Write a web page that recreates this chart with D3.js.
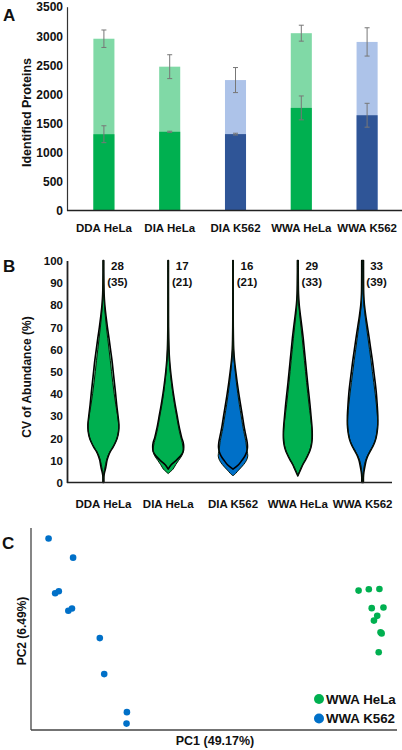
<!DOCTYPE html>
<html><head><meta charset="utf-8">
<script src="https://cdn.jsdelivr.net/npm/d3@7"></script>
<style>
body{margin:0;background:#fff;}
svg{display:block;font-family:"Liberation Sans",Arial,sans-serif;font-weight:bold;}
</style></head><body>
<svg id="c" width="402" height="750"></svg>
<script>
// ---------- DATA ----------
const categories = ["DDA HeLa", "DIA HeLa", "DIA K562", "WWA HeLa", "WWA K562"];
const cellLine = ["HeLa", "HeLa", "K562", "HeLa", "K562"];

// Panel A: identified proteins
const totalProteins = [2950, 2470, 2240, 3045, 2895];
const totalErr = [150, 205, 215, 137, 243];
const commonProteins = [1310, 1352, 1312, 1762, 1636];
const commonErr = [145, 10, 15, 205, 205];
const proteinTicks = [0, 500, 1000, 1500, 2000, 2500, 3000, 3500];

// Panel B: CV violins (half-width density, a.u.) on a shared CV grid
const cvGrid = [0, 2, 3, 4, 5, 6, 8, 10, 12, 14, 16, 18, 20, 23, 26, 30, 35, 40, 45, 50, 55, 60, 65, 70, 75, 80, 85, 90, 95, 100];
const cvTicks = [0, 10, 20, 30, 40, 50, 60, 70, 80, 90, 100];
const medianProtein = [28, 17, 16, 29, 33];
const medianPeptide = [35, 21, 21, 33, 39];
const outerDDAHeLa = [0.45, 0.45, 0.55, 0.9, 1.4, 2.0, 2.8, 3.6, 5.0, 7.0, 9.8, 12.0, 13.8, 15.2, 15.5, 14.6, 13.3, 12.2, 11.0, 9.8, 8.6, 7.1, 5.6, 4.0, 2.6, 1.4, 0.7, 0.45, 0.35, 0.35];
const innerDDAHeLa = [0.3, 0.3, 0.35, 0.45, 0.7, 1.2, 2.1, 3.1, 4.6, 6.7, 9.6, 11.9, 13.7, 15.1, 15.3, 14.2, 12.4, 10.8, 9.4, 8.1, 6.9, 5.6, 4.3, 3.0, 1.9, 1.0, 0.5, 0.3, 0.25, 0.25];
const outerDIAHeLa = [null, null, null, null, null, 0, 3.0, 8.0, 12.5, 15.0, 15.5, 15.0, 13.6, 12.0, 10.6, 9.0, 7.0, 5.2, 3.7, 2.4, 1.4, 0.8, 0.5, 0.35, 0.3, 0.28, 0.26, 0.25, 0.25, 0.25];
const innerDIAHeLa = [null, null, null, 0, 2.5, 4.8, 7.5, 10.5, 13.5, 15.0, 14.8, 14.0, 12.8, 11.2, 9.9, 8.3, 6.3, 4.6, 3.2, 2.0, 1.2, 0.7, 0.4, 0.3, 0.25, 0.22, 0.2, 0.2, 0.2, 0.2];
const outerDIAK562 = [null, null, null, null, null, 0, 5.5, 9.0, 12.0, 13.8, 14.5, 14.2, 13.4, 12.0, 10.8, 9.4, 7.6, 5.8, 4.2, 2.8, 1.5, 0.7, 0.4, 0.25, 0.2, 0.18, 0.16, 0.15, 0.15, 0.15];
const innerDIAK562 = [null, null, 0, 2.5, 4.5, 6.5, 10.5, 13.5, 14.8, 14.2, 13.5, 13.0, 12.2, 10.8, 9.6, 8.2, 6.4, 4.8, 3.4, 2.2, 1.1, 0.5, 0.25, 0.15, 0.12, 0.1, 0.1, 0.1, 0.1, 0.1];
const outerWWAHeLa = [null, null, 0, 1.0, 2.0, 3.0, 5.0, 7.5, 9.8, 11.8, 13.2, 14.0, 14.4, 14.4, 14.0, 13.2, 12.2, 11.0, 9.8, 8.7, 7.6, 6.5, 5.4, 4.1, 2.7, 1.4, 0.7, 0.5, 0.4, 0.4];
const innerWWAHeLa = [null, null, 0, 0.8, 1.8, 2.8, 4.8, 7.3, 9.6, 11.6, 13.0, 13.8, 14.2, 14.2, 13.6, 12.6, 11.2, 10.0, 8.8, 7.7, 6.6, 5.5, 4.4, 3.2, 2.0, 1.0, 0.5, 0.35, 0.3, 0.3];
const outerWWAK562 = [0.8, 0.8, 0.9, 1.1, 1.4, 1.8, 2.6, 3.6, 5.2, 7.5, 10.0, 12.0, 13.4, 14.6, 15.2, 15.2, 14.6, 13.8, 12.6, 11.2, 9.8, 8.2, 6.6, 4.9, 3.2, 1.8, 1.1, 0.95, 0.9, 0.9];
const innerWWAK562 = [0.45, 0.45, 0.5, 0.6, 0.8, 1.1, 1.8, 3.0, 4.8, 7.2, 9.8, 11.8, 13.2, 14.4, 15.0, 14.8, 13.8, 12.6, 11.2, 9.8, 8.4, 6.9, 5.4, 3.9, 2.5, 1.3, 0.75, 0.6, 0.55, 0.55];

// Panel C: PCA scores
const pcaGroups = ["WWA HeLa", "WWA K562"];
const pc1HeLa = [49.5, 52.3, 55.2, 53.1, 56.3, 54.6, 53.7, 55.5, 55.8, 55.0];
const pc2HeLa = [11.4, 11.8, 11.9, 6.2, 6.4, 3.9, 2.5, -1.0, -1.3, -6.9];
const pc1K562 = [-35.2, -28.5, -33.4, -32.4, -29.8, -28.8, -21.2, -20.0, -13.8, -13.9];
const pc2K562 = [26.9, 21.2, 10.6, 11.2, 5.4, 6.1, -2.7, -13.4, -24.7, -28.1];

// ---------- STYLE ----------
const darkCol = {HeLa: "#00b050", K562: "#2f5597"};
const lightCol = {HeLa: "#80d9a6", K562: "#adc3e9"};
const vDark = {HeLa: "#00b050", K562: "#0070c8"};
const vLight = {HeLa: "#86e3ad", K562: "#9cc4ee"};
const txt = "#111";

const svg = d3.select("#c");

// ---------- PANEL A ----------
const xA = d3.scaleBand().domain(categories).range([71, 400]).paddingInner(0.68).paddingOuter(0.34);
const yA = d3.scaleLinear().domain([0, 3500]).range([210.5, 6.7]);
const gA = svg.append("g");

categories.forEach((c, i) => {
  const x = xA(c), w = xA.bandwidth(), cl = cellLine[i];
  gA.append("rect").attr("x", x).attr("width", w)
    .attr("y", yA(totalProteins[i])).attr("height", yA(0) - yA(totalProteins[i]))
    .attr("fill", lightCol[cl]);
  gA.append("rect").attr("x", x).attr("width", w)
    .attr("y", yA(commonProteins[i])).attr("height", yA(0) - yA(commonProteins[i]))
    .attr("fill", darkCol[cl]);
  const cx = x + w / 2;
  [[totalProteins[i], totalErr[i]], [commonProteins[i], commonErr[i]]].forEach(([v, e]) => {
    const g = gA.append("g").attr("stroke", "#777").attr("stroke-width", 1);
    g.append("line").attr("x1", cx).attr("x2", cx).attr("y1", yA(v - e)).attr("y2", yA(v + e));
    g.append("line").attr("x1", cx - 2.5).attr("x2", cx + 2.5).attr("y1", yA(v - e)).attr("y2", yA(v - e));
    g.append("line").attr("x1", cx - 2.5).attr("x2", cx + 2.5).attr("y1", yA(v + e)).attr("y2", yA(v + e));
  });
});

const axA = gA.append("g").attr("transform", "translate(67,0)")
  .call(d3.axisLeft(yA).tickValues(proteinTicks).tickSize(0).tickPadding(4).tickFormat(d3.format("d")));
axA.select(".domain").attr("stroke", "#333").attr("stroke-width", 1.2);
axA.selectAll("text").attr("font-size", 12).attr("font-family", "Liberation Sans, Arial").attr("font-weight", "bold").attr("fill", txt).attr("dy", "0.35em");
const axAx = gA.append("g").attr("transform", `translate(0,${yA(0)})`)
  .call(d3.axisBottom(xA).tickSize(0).tickPadding(13));
axAx.select(".domain").attr("d", `M-4,0H332`).attr("transform", "translate(71,0)").attr("stroke", "#222").attr("stroke-width", 1.6);
axAx.selectAll("text").attr("font-size", 11.5).attr("font-family", "Liberation Sans, Arial").attr("font-weight", "bold").attr("fill", txt);

gA.append("text").attr("transform", "translate(31,112.5) rotate(-90)").attr("text-anchor", "middle")
  .attr("font-size", 12.5).attr("fill", txt).text("Identified Proteins");
svg.append("text").attr("x", 3).attr("y", 21).attr("font-size", 17).attr("fill", txt).text("A");

// ---------- PANEL B ----------
const xB = d3.scaleBand().domain(categories).range([71, 395]);
const yB = d3.scaleLinear().domain([0, 100]).range([482.5, 260.5]);
const wB = d3.scaleLinear().domain([0, 16]).range([0, 16]);
const gB = svg.append("g");
const violins = [
  [outerDDAHeLa, innerDDAHeLa], [outerDIAHeLa, innerDIAHeLa], [outerDIAK562, innerDIAK562],
  [outerWWAHeLa, innerWWAHeLa], [outerWWAK562, innerWWAK562]
];

categories.forEach((c, i) => {
  const cx = xB(c) + xB.bandwidth() / 2, cl = cellLine[i];
  const area = d3.area()
    .defined(d => d.w != null)
    .y(d => yB(d.cv))
    .x0(d => cx - wB(d.w))
    .x1(d => cx + wB(d.w))
    .curve(d3.curveCatmullRom.alpha(0.5));
  const toPts = arr => cvGrid.map((cv, k) => ({cv, w: arr[k]}));
  const [outer, inner] = violins[i].map(toPts);
  gB.append("path").attr("d", area(outer)).attr("fill", vLight[cl]);
  gB.append("path").attr("d", area(inner)).attr("fill", vDark[cl]);
  gB.append("path").attr("d", area(outer)).attr("fill", "none").attr("stroke", "#000").attr("stroke-width", 1.6).attr("stroke-linejoin", "round");
  gB.append("path").attr("d", area(inner)).attr("fill", "none").attr("stroke", "#0a1a0a").attr("stroke-width", 1).attr("stroke-linejoin", "round");
  gB.append("text").attr("x", cx + 14).attr("y", 270).attr("text-anchor", "middle").attr("font-size", 11.5).attr("fill", txt).text(medianProtein[i]);
  gB.append("text").attr("x", cx + 14).attr("y", 286).attr("text-anchor", "middle").attr("font-size", 11.5).attr("fill", txt).text(`(${medianPeptide[i]})`);
});

const axB = gB.append("g").attr("transform", "translate(67,0)")
  .call(d3.axisLeft(yB).tickValues(cvTicks).tickSize(0).tickPadding(4));
axB.select(".domain").attr("stroke", "#222").attr("stroke-width", 1.8);
axB.selectAll("text").attr("font-size", 11.5).attr("font-family", "Liberation Sans, Arial").attr("font-weight", "bold").attr("fill", txt).attr("dy", "0.35em");
const axBx = gB.append("g").attr("transform", `translate(0,${yB(0)})`)
  .call(d3.axisBottom(xB).tickSize(0).tickPadding(17));
axBx.select(".domain").attr("d", `M67,0H392`).attr("stroke", "#222").attr("stroke-width", 1.6);
axBx.selectAll("text").attr("font-size", 11.5).attr("font-family", "Liberation Sans, Arial").attr("font-weight", "bold").attr("fill", txt);

gB.append("text").attr("transform", "translate(31,377) rotate(-90)").attr("text-anchor", "middle")
  .attr("font-size", 12).attr("fill", txt).text("CV of Abundance (%)");
svg.append("text").attr("x", 3).attr("y", 272).attr("font-size", 17).attr("fill", txt).text("B");

// ---------- PANEL C ----------
const xC = d3.scaleLinear().domain([-40, 60]).range([31, 397]);
const yC = d3.scaleLinear().domain([-30, 30]).range([730, 528]);
const gC = svg.append("g");
gC.append("line").attr("x1", xC(-40)).attr("x2", xC(-40)).attr("y1", yC(30)).attr("y2", yC(-30)).attr("stroke", "#444").attr("stroke-width", 1.3);
gC.append("line").attr("x1", xC(-40)).attr("x2", xC(60)).attr("y1", yC(-30)).attr("y2", yC(-30)).attr("stroke", "#444").attr("stroke-width", 1.3);

const ptCol = {"WWA HeLa": "#00b050", "WWA K562": "#0070c8"};
pc1K562.forEach((v, i) => gC.append("circle").attr("cx", xC(v)).attr("cy", yC(pc2K562[i])).attr("r", 3.3).attr("fill", ptCol["WWA K562"]));
pc1HeLa.forEach((v, i) => gC.append("circle").attr("cx", xC(v)).attr("cy", yC(pc2HeLa[i])).attr("r", 3.3).attr("fill", ptCol["WWA HeLa"]));

pcaGroups.forEach((g, i) => {
  const y = 699 + i * 19.5;
  gC.append("circle").attr("cx", 319).attr("cy", y).attr("r", 5).attr("fill", ptCol[g]);
  gC.append("text").attr("x", 326).attr("y", y + 4.8).attr("font-size", 13.3).attr("fill", txt).text(g);
});

gC.append("text").attr("x", 215).attr("y", 744.5).attr("text-anchor", "middle").attr("font-size", 12.5).attr("fill", txt).text("PC1 (49.17%)");
gC.append("text").attr("transform", "translate(25.5,631) rotate(-90)").attr("text-anchor", "middle")
  .attr("font-size", 12).attr("fill", txt).text("PC2 (6.49%)");
svg.append("text").attr("x", 2).attr("y", 549).attr("font-size", 17).attr("fill", txt).text("C");
</script>
</body></html>
